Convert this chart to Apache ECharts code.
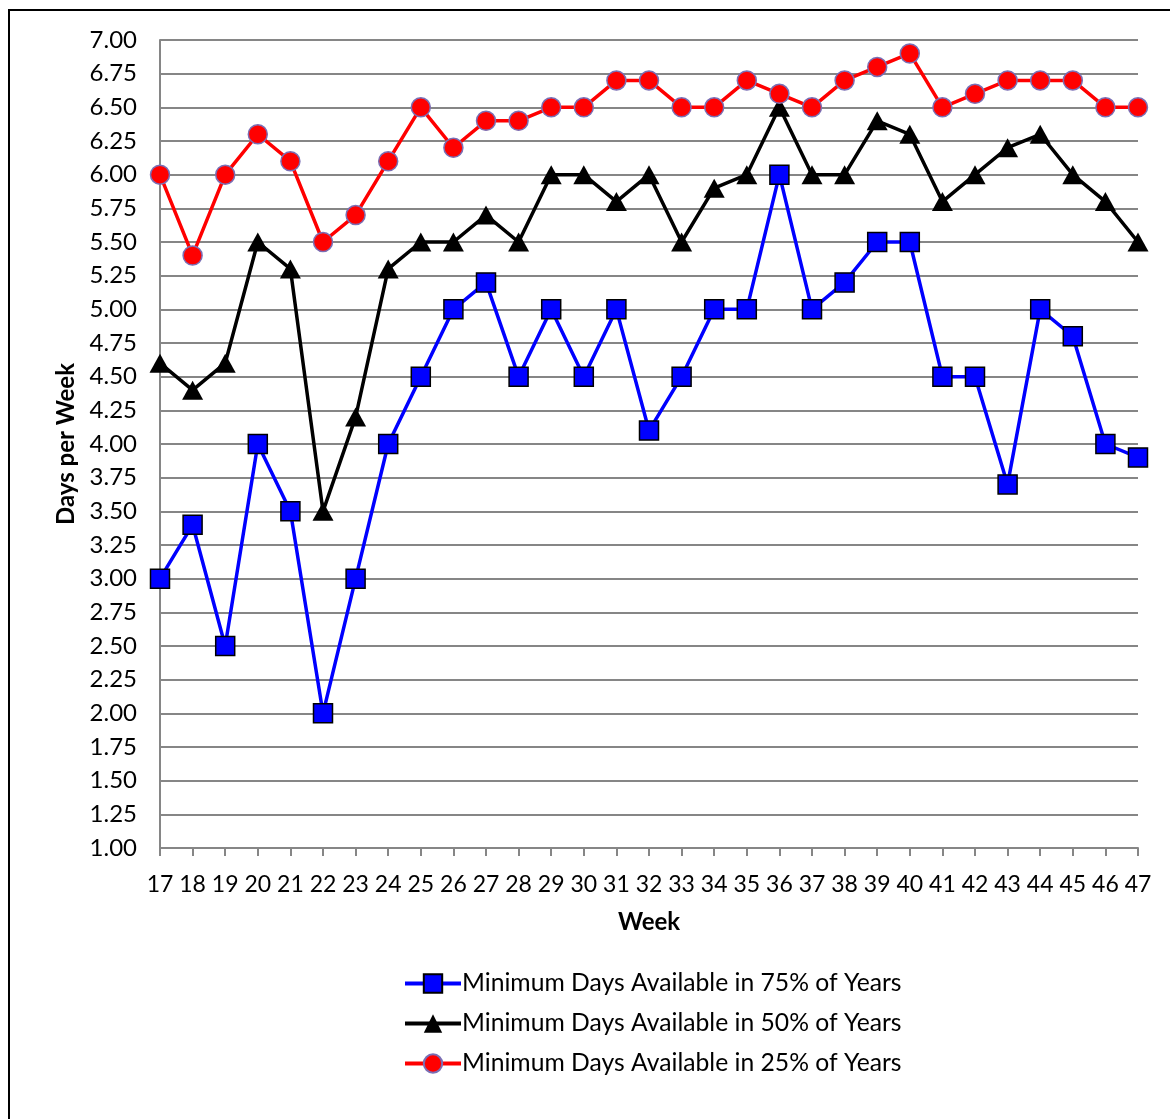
<!DOCTYPE html>
<html>
<head>
<meta charset="utf-8">
<script src="https://cdn.jsdelivr.net/npm/echarts@6/dist/echarts.min.js"></script>
<style>
html,body{margin:0;padding:0;background:#fff;}
#frame{position:absolute;left:8px;top:9px;width:1200px;height:1200px;border-top:2px solid #000;border-left:2px solid #000;box-sizing:border-box;}
#chart{position:absolute;left:0;top:0;width:1170px;height:1119px;}
</style>
</head>
<body>
<div id="frame"></div>
<div id="chart"></div>
<script>
const weeks = ['17','18','19','20','21','22','23','24','25','26','27','28','29','30','31','32','33','34','35','36','37','38','39','40','41','42','43','44','45','46','47'];
const min75 = [3.0,3.4,2.5,4.0,3.5,2.0,3.0,4.0,4.5,5.0,5.2,4.5,5.0,4.5,5.0,4.1,4.5,5.0,5.0,6.0,5.0,5.2,5.5,5.5,4.5,4.5,3.7,5.0,4.8,4.0,3.9];
const min50 = [4.6,4.4,4.6,5.5,5.3,3.5,4.2,5.3,5.5,5.5,5.7,5.5,6.0,6.0,5.8,6.0,5.5,5.9,6.0,6.5,6.0,6.0,6.4,6.3,5.8,6.0,6.2,6.3,6.0,5.8,5.5];
const min25 = [6.0,5.4,6.0,6.3,6.1,5.5,5.7,6.1,6.5,6.2,6.4,6.4,6.5,6.5,6.7,6.7,6.5,6.5,6.7,6.6,6.5,6.7,6.8,6.9,6.5,6.6,6.7,6.7,6.7,6.5,6.5];
const seriesNames = ['Minimum Days Available in 75% of Years','Minimum Days Available in 50% of Years','Minimum Days Available in 25% of Years'];

const FONT = 'Lato, "Open Sans", sans-serif';
const chart = echarts.init(document.getElementById('chart'), null, {renderer:'canvas'});
chart.setOption({
  animation:false,
  backgroundColor:'transparent',
  grid:{left:160, top:40, width:978, height:808, containLabel:false},
  xAxis:{
    type:'category', data:weeks, boundaryGap:false,
    name:'Week', nameLocation:'middle', nameGap:62,
    nameTextStyle:{fontFamily:FONT, fontSize:24, fontWeight:'bold', color:'#000'},
    axisLine:{lineStyle:{color:'#868686', width:2}},
    axisTick:{show:true, alignWithLabel:true, length:8, lineStyle:{color:'#868686', width:2}},
    axisLabel:{fontFamily:FONT, fontSize:23, color:'#000', margin:25, interval:0},
    splitLine:{show:false}
  },
  yAxis:{
    type:'value', min:1, max:7, interval:0.25,
    name:'Days per Week', nameLocation:'middle', nameGap:81, nameRotate:90,
    nameTextStyle:{fontFamily:FONT, fontSize:24, fontWeight:'bold', color:'#000'},
    axisLine:{show:true, lineStyle:{color:'#868686', width:2}},
    axisTick:{show:false},
    axisLabel:{fontFamily:FONT, fontSize:24, color:'#000', margin:23, formatter:v=>v.toFixed(2)},
    splitLine:{show:true, lineStyle:{color:'#868686', width:2}}
  },
  legend:{
    orient:'vertical', left:398, top:966, itemWidth:56, itemHeight:23, itemGap:15,
    lineStyle:{width:4},
    textStyle:{fontFamily:FONT, fontSize:24.7, color:'#000', padding:[0,0,0,-4]},
    data:seriesNames
  },
  series:[
    {name:seriesNames[0], type:'line', data:min75, symbol:'rect', symbolSize:19,
     lineStyle:{color:'#0000FF', width:3.5}, itemStyle:{color:'#0000FF', borderColor:'#000', borderWidth:1.5}, z:3},
    {name:seriesNames[1], type:'line', data:min50, symbol:'triangle', symbolSize:[21,19],
     lineStyle:{color:'#000', width:3.5}, itemStyle:{color:'#000', borderColor:'#000', borderWidth:0}, z:4},
    {name:seriesNames[2], type:'line', data:min25, symbol:'circle', symbolSize:19,
     lineStyle:{color:'#FF0000', width:3.5}, itemStyle:{color:'#FF0000', borderColor:'#7A6FB5', borderWidth:1.5}, z:5}
  ]
});
</script>
</body>
</html>
